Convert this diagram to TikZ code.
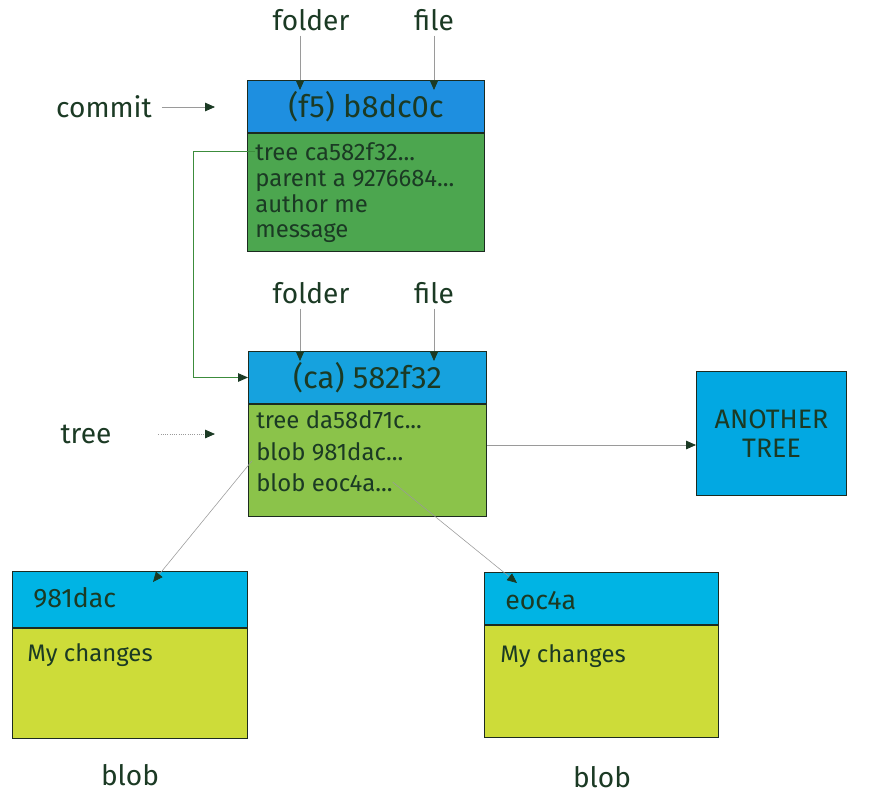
\documentclass[tikz,border=0pt]{standalone}
\usepackage{fontspec}
\setmainfont{Fira Sans}
\usetikzlibrary{arrows.meta, positioning, calc}
\definecolor{ink}{HTML}{1B3A24}
\definecolor{edge}{HTML}{1C2B20}
\definecolor{linegray}{HTML}{9A9A9A}
\definecolor{linkgreen}{HTML}{3C8C3C}
\definecolor{commithd}{HTML}{1E8FE0}
\definecolor{commitbd}{HTML}{4CA64F}
\definecolor{treehd}{HTML}{16A2DE}
\definecolor{treebd}{HTML}{8BC34A}
\definecolor{othertree}{HTML}{02A8E2}
\definecolor{blobhd}{HTML}{00B4E4}
\definecolor{blobbd}{HTML}{CDDC39}

\begin{document}
\begin{tikzpicture}[x=0.025cm, y=-0.025cm,
  hdr/.style={rectangle, draw=edge, line width=0.7pt, anchor=north west, inner sep=0pt, text=ink, font=\fontsize{22}{25}\selectfont},
  bdy/.style={rectangle, draw=edge, line width=0.7pt, anchor=north west, inner sep=0pt},
  ln/.style={anchor=base west, inner sep=0pt, text=ink, font=\fontsize{17}{20}\selectfont},
  lbl/.style={text=ink, font=\fontsize{20}{23}\selectfont},
  arr/.style={draw=linegray, line width=0.6pt, -{Triangle[length=7pt, width=6pt, color=ink]}},
  lnk/.style={draw=linkgreen, line width=0.7pt, -{Triangle[length=7pt, width=6pt, color=ink]}},
]
\useasboundingbox (0,0) rectangle (880,798);

% commit
\node[hdr, fill=commithd, minimum width=5.925cm, minimum height=1.3cm] (hd1) at (247,80) {(f5) b8dc0c};
\node[bdy, fill=commitbd, minimum width=5.925cm, minimum height=2.95cm] (bd1) at (hd1.south west) {};
\node[ln] (c1tree)   at (255,160) {tree ca582f32...};
\node[ln] (c1parent) at (255,186) {parent a 9276684...};
\node[ln] (c1author) at (255,212) {author me};
\node[ln] (c1msg)    at (255,237) {message};

\node[lbl] (fold1) at (311,20) {folder};
\node[lbl] (file1) at (434,20) {file};
\node[lbl] (commitlbl) at (104,107) {commit};
\coordinate (commitend) at (215,107);

% tree
\node[hdr, fill=treehd, minimum width=5.95cm, minimum height=1.3cm] (hd2) at (248,351) {(ca) 582f32};
\node[bdy, fill=treebd, minimum width=5.95cm, minimum height=2.8cm] (bd2) at (hd2.south west) {};
\node[ln] (t1tree)  at (256,428) {tree da58d71c...};
\node[ln] (t1blobA) at (256,460) {blob 981dac...};
\node[ln] (t1blobB) at (256,491) {blob eoc4a...};

\node[lbl] (fold2) at (311,293) {folder};
\node[lbl] (file2) at (434,293) {file};
\node[lbl] (treelbl) at (86,434) {tree};
\coordinate (treeend) at (215,434);

\node[hdr, fill=othertree, minimum width=3.75cm, minimum height=3.1cm, align=center, font=\fontsize{19}{21}\selectfont] (another) at (696,371) {ANOTHER\\TREE};

% blobs
\node[hdr, fill=blobhd, minimum width=5.875cm, minimum height=1.4cm] (hb1) at (12,571) {};
\node[bdy, fill=blobbd, minimum width=5.875cm, minimum height=2.75cm] (bb1) at (hb1.south west) {};
\node[ln, font=\fontsize{19}{22}\selectfont] (b1id)  at (33,607) {981dac};
\node[ln, font=\fontsize{17}{20}\selectfont] (b1txt) at (27,661) {My changes};
\node[lbl] (blob1lbl) at (130,775) {blob};

\node[hdr, fill=blobhd, minimum width=5.85cm, minimum height=1.3cm] (hb2) at (484,572) {};
\node[bdy, fill=blobbd, minimum width=5.85cm, minimum height=2.8cm] (bb2) at (hb2.south west) {};
\node[ln, font=\fontsize{19}{22}\selectfont] (b2id)  at (505,609) {eoc4a};
\node[ln, font=\fontsize{17}{20}\selectfont] (b2txt) at (500,662) {My changes};
\node[lbl] (blob2lbl) at (602,777) {blob};

\draw[arr] ([xshift=-0.275cm]fold1.south) -- ([xshift=-0.275cm,yshift=-0.25cm]fold1.south |- hd1.north);
\draw[arr] (file1.south) -- ([yshift=-0.25cm]file1.south |- hd1.north);
\draw[arr] (commitlbl.east) ++(5,0) -- (commitend);
\draw[arr] ([xshift=-0.275cm]fold2.south) -- ([xshift=-0.275cm,yshift=-0.25cm]fold2.south |- hd2.north);
\draw[arr] (file2.south) -- ([yshift=-0.25cm]file2.south |- hd2.north);
\draw[arr, densely dotted] (treelbl.east) ++(42,0) -- (treeend);

\draw[lnk] (c1tree.west) -- ++(-62,0) |- (hd2.west);
\draw[arr] (bd2.east |- 0,445) -- (another.west |- 0,445);
\draw[arr, line width=0.4pt] ([xshift=-0.1cm]t1blobA.south west) -- ($(hb1.north west)+(141,11)$);
\draw[arr, line width=0.4pt] (t1blobB.east) -- ($(hb2.north west)+(33,11)$);
\end{tikzpicture}
\end{document}
